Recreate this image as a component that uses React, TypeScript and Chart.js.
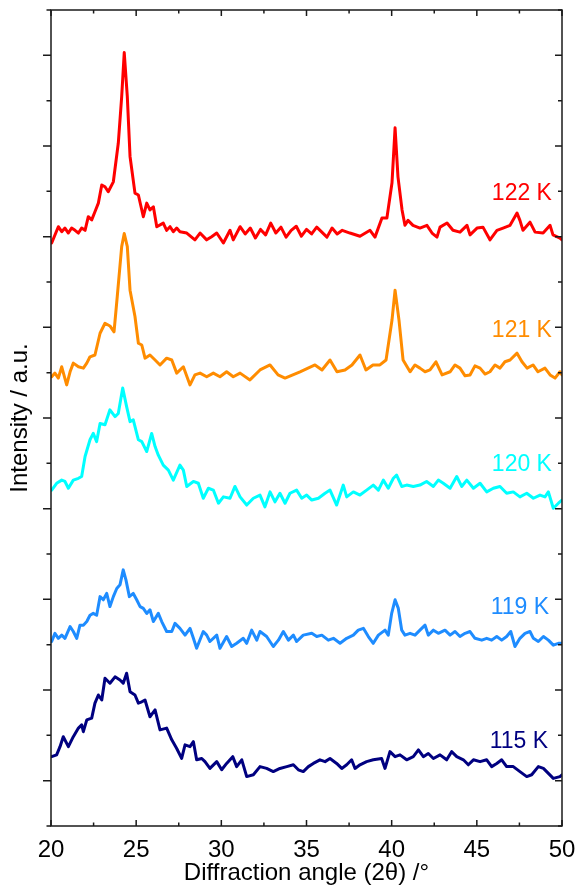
import React, { useEffect, useRef } from 'react';
import { Chart, registerables } from 'chart.js';

Chart.register(...registerables);

const FONT = '"Liberation Sans", Arial, Helvetica, sans-serif';
const AXIS_COLOR = '#1a1a1a';

// x (2θ, degrees) / intensity (offset, a.u.) pairs
const s122: [number, number][] = [
  [20.04, 12.86], [20.43, 13.22], [20.63, 13.11], [20.82, 13.19], [21.02, 13.08], [21.21, 13.19], [21.41, 13.14],
  [21.61, 13.08], [21.8, 13.19], [22.0, 13.14], [22.19, 13.44], [22.39, 13.37], [22.58, 13.55], [22.78, 13.74],
  [22.98, 14.14], [23.17, 14.1], [23.36, 13.99], [23.66, 14.21], [23.95, 15.06], [24.15, 16.09], [24.3, 17.06],
  [24.48, 16.09], [24.64, 14.77], [24.93, 13.96], [25.13, 13.92], [25.42, 13.44], [25.62, 13.74], [25.81, 13.59],
  [26.01, 13.66], [26.21, 13.22], [26.59, 13.3], [26.79, 13.14], [26.99, 13.22], [27.18, 13.11], [27.38, 13.19],
  [27.57, 13.11], [27.97, 13.08], [28.45, 12.93], [28.75, 13.08], [29.14, 12.93], [29.43, 13.0], [29.73, 13.08],
  [30.12, 12.86], [30.51, 13.14], [30.7, 12.93], [31.1, 13.22], [31.4, 13.06], [31.7, 13.19], [32.0, 12.97],
  [32.3, 13.16], [32.6, 13.04], [32.9, 13.3], [33.2, 13.08], [33.5, 13.21], [33.8, 12.99], [34.1, 13.14],
  [34.4, 13.23], [34.7, 13.01], [35.0, 13.16], [35.3, 13.06], [35.6, 13.21], [35.9, 13.1], [36.2, 12.99],
  [36.5, 13.19], [36.8, 13.06], [37.1, 13.14], [37.55, 13.08], [38.14, 13.01], [38.73, 13.14], [39.02, 12.99],
  [39.43, 13.41], [39.72, 13.41], [40.02, 14.19], [40.2, 15.4], [40.37, 14.32], [40.61, 13.59], [40.78, 13.25],
  [40.96, 13.36], [41.25, 13.25], [41.66, 13.19], [42.07, 13.25], [42.37, 13.08], [42.66, 12.99], [42.84, 13.21],
  [43.25, 13.3], [43.6, 13.14], [44.01, 13.1], [44.42, 13.25], [44.6, 13.04], [45.01, 13.19], [45.36, 13.21],
  [45.77, 12.93], [46.18, 13.14], [46.54, 13.19], [46.95, 13.25], [47.36, 13.52], [47.53, 13.36], [47.71, 13.14],
  [48.12, 13.32], [48.42, 13.1], [48.89, 13.08], [49.3, 13.25], [49.47, 13.04], [49.88, 12.97], [50.0, 12.93],
];

const s121: [number, number][] = [
  [20.04, 9.91], [20.23, 9.99], [20.43, 9.88], [20.63, 10.13], [20.92, 9.73], [21.12, 10.02], [21.31, 10.21],
  [21.61, 10.13], [21.9, 10.1], [22.1, 10.21], [22.29, 10.35], [22.58, 10.39], [22.88, 10.87], [23.17, 11.09],
  [23.46, 11.03], [23.7, 10.9], [23.89, 11.68], [24.15, 12.78], [24.3, 13.07], [24.48, 12.78], [24.64, 11.82],
  [24.93, 11.24], [25.13, 10.65], [25.33, 10.61], [25.52, 10.32], [25.81, 10.39], [26.11, 10.28], [26.4, 10.17],
  [26.79, 10.32], [27.09, 10.28], [27.38, 9.99], [27.77, 10.13], [28.16, 9.73], [28.45, 9.95], [28.75, 9.99],
  [29.14, 9.91], [29.53, 9.99], [29.92, 9.91], [30.31, 10.02], [30.7, 9.91], [31.1, 9.99], [31.68, 9.84],
  [32.27, 10.06], [32.86, 10.17], [33.33, 9.95], [33.74, 9.88], [34.62, 10.02], [35.09, 10.1], [35.5, 10.17],
  [35.91, 10.06], [36.38, 10.28], [36.79, 10.02], [37.26, 10.06], [37.67, 10.17], [38.14, 10.39], [38.49, 10.06],
  [38.9, 10.17], [39.31, 10.17], [39.67, 10.28], [40.02, 11.16], [40.2, 11.82], [40.43, 11.16], [40.67, 10.28],
  [41.08, 10.02], [41.37, 10.17], [41.66, 10.1], [41.96, 10.02], [42.25, 10.06], [42.6, 10.24], [42.96, 9.95],
  [43.43, 10.02], [43.72, 10.17], [44.01, 10.1], [44.31, 9.93], [44.6, 9.95], [44.89, 10.15], [45.19, 10.1],
  [45.48, 9.97], [45.77, 10.02], [46.07, 10.17], [46.36, 10.1], [46.65, 10.24], [46.95, 10.28], [47.36, 10.43],
  [47.65, 10.24], [47.95, 10.1], [48.3, 10.17], [48.59, 10.02], [49.0, 10.1], [49.3, 9.95], [49.59, 9.88],
  [49.88, 10.02], [50.0, 9.95],
];

const s120: [number, number][] = [
  [20.04, 7.41], [20.33, 7.56], [20.63, 7.63], [20.82, 7.6], [21.02, 7.45], [21.31, 7.63], [21.61, 7.67],
  [21.8, 7.71], [22.0, 8.15], [22.29, 8.52], [22.48, 8.66], [22.68, 8.48], [22.88, 8.88], [23.17, 8.85],
  [23.46, 9.18], [23.76, 9.03], [23.95, 9.1], [24.21, 9.66], [24.44, 9.25], [24.64, 8.92], [24.83, 8.96],
  [25.13, 8.52], [25.33, 8.48], [25.62, 8.26], [25.91, 8.66], [26.11, 8.37], [26.3, 8.18], [26.59, 7.96],
  [26.89, 7.85], [27.18, 7.63], [27.57, 7.96], [27.77, 7.85], [27.97, 7.49], [28.36, 7.6], [28.65, 7.56],
  [28.94, 7.23], [29.24, 7.45], [29.53, 7.41], [29.83, 7.12], [30.12, 7.26], [30.51, 7.23], [30.8, 7.49],
  [31.1, 7.26], [31.49, 7.08], [31.88, 7.23], [32.27, 7.3], [32.56, 7.04], [32.86, 7.37], [33.15, 7.15],
  [33.44, 7.34], [33.74, 7.12], [34.03, 7.34], [34.42, 7.41], [34.72, 7.23], [35.01, 7.3], [35.31, 7.19],
  [35.7, 7.23], [36.09, 7.34], [36.38, 7.41], [36.77, 7.08], [37.16, 7.52], [37.36, 7.26], [37.75, 7.37],
  [38.14, 7.3], [38.53, 7.41], [38.92, 7.52], [39.22, 7.41], [39.51, 7.63], [39.8, 7.45], [40.1, 7.67],
  [40.29, 7.74], [40.59, 7.49], [40.88, 7.52], [41.27, 7.49], [41.66, 7.52], [42.05, 7.6], [42.45, 7.49],
  [42.74, 7.63], [43.03, 7.56], [43.43, 7.45], [43.82, 7.71], [44.11, 7.49], [44.41, 7.63], [44.8, 7.45],
  [45.19, 7.56], [45.58, 7.37], [45.97, 7.45], [46.36, 7.49], [46.75, 7.34], [47.14, 7.37], [47.53, 7.26],
  [47.93, 7.34], [48.32, 7.23], [48.71, 7.3], [49.0, 7.26], [49.2, 7.37], [49.49, 7.01], [49.79, 7.12],
  [50.0, 7.19],
];

const s119: [number, number][] = [
  [20.04, 4.07], [20.23, 4.25], [20.43, 4.14], [20.63, 4.21], [20.82, 4.14], [21.12, 4.4], [21.31, 4.29],
  [21.51, 4.14], [21.7, 4.43], [21.9, 4.43], [22.1, 4.51], [22.29, 4.65], [22.48, 4.69], [22.68, 4.65],
  [22.88, 5.06], [23.07, 4.99], [23.27, 5.13], [23.46, 4.84], [23.66, 5.06], [23.86, 5.24], [24.05, 5.32],
  [24.24, 5.65], [24.4, 5.43], [24.6, 5.06], [24.83, 5.13], [25.03, 4.99], [25.23, 4.84], [25.42, 4.8],
  [25.62, 4.69], [25.81, 4.77], [26.01, 4.51], [26.3, 4.69], [26.5, 4.51], [26.79, 4.29], [27.09, 4.29],
  [27.28, 4.47], [27.57, 4.36], [27.87, 4.21], [28.16, 4.36], [28.36, 4.14], [28.55, 3.92], [28.94, 4.29],
  [29.14, 4.21], [29.33, 4.07], [29.73, 4.21], [29.92, 3.92], [30.31, 4.18], [30.61, 3.96], [30.9, 4.03],
  [31.29, 4.14], [31.49, 4.03], [31.78, 4.32], [32.08, 4.1], [32.27, 4.29], [32.66, 4.18], [33.05, 3.96],
  [33.35, 4.1], [33.64, 4.29], [33.94, 4.1], [34.23, 4.21], [34.42, 4.07], [34.81, 4.21], [35.31, 4.25],
  [35.6, 4.18], [35.9, 4.21], [36.28, 4.1], [36.58, 4.14], [36.97, 4.03], [37.36, 4.14], [37.75, 4.21],
  [38.04, 4.32], [38.34, 4.36], [38.63, 4.18], [38.92, 4.03], [39.22, 4.21], [39.61, 4.32], [39.8, 4.21],
  [40.0, 4.69], [40.2, 4.99], [40.39, 4.8], [40.59, 4.32], [40.78, 4.21], [41.08, 4.25], [41.37, 4.21],
  [41.66, 4.32], [41.96, 4.43], [42.15, 4.21], [42.45, 4.32], [42.74, 4.25], [43.13, 4.32], [43.43, 4.21],
  [43.72, 4.29], [44.01, 4.18], [44.31, 4.25], [44.6, 4.29], [44.89, 4.14], [45.29, 4.1], [45.58, 4.14],
  [45.87, 4.1], [46.17, 4.18], [46.46, 4.1], [46.75, 4.18], [46.99, 4.29], [47.24, 3.96], [47.53, 4.14],
  [47.83, 4.25], [48.12, 4.29], [48.32, 4.14], [48.61, 4.07], [48.91, 4.18], [49.2, 4.1], [49.49, 3.99],
  [49.79, 4.03], [50.0, 4.03],
];

const s115: [number, number][] = [
  [20.04, 1.53], [20.33, 1.57], [20.53, 1.75], [20.72, 1.97], [21.02, 1.75], [21.31, 1.97], [21.61, 2.16],
  [21.8, 2.23], [21.9, 2.08], [22.1, 2.34], [22.39, 2.38], [22.58, 2.71], [22.78, 2.89], [22.98, 2.78],
  [23.17, 3.26], [23.46, 3.15], [23.76, 3.29], [24.05, 3.22], [24.24, 3.15], [24.44, 3.37], [24.64, 2.96],
  [24.93, 2.89], [25.13, 2.71], [25.33, 2.74], [25.52, 2.78], [25.81, 2.41], [26.11, 2.56], [26.4, 2.12],
  [26.79, 2.16], [27.09, 1.9], [27.38, 1.71], [27.67, 1.49], [27.87, 1.79], [28.16, 1.75], [28.36, 1.86],
  [28.55, 1.46], [28.85, 1.49], [29.04, 1.42], [29.33, 1.27], [29.73, 1.42], [30.02, 1.24], [30.31, 1.38],
  [30.67, 1.53], [30.9, 1.31], [31.2, 1.46], [31.49, 1.09], [31.88, 1.13], [32.27, 1.31], [32.66, 1.27],
  [33.05, 1.2], [33.44, 1.27], [33.84, 1.31], [34.23, 1.35], [34.52, 1.24], [34.81, 1.2], [35.11, 1.31],
  [35.4, 1.38], [35.79, 1.46], [36.09, 1.42], [36.38, 1.49], [36.77, 1.38], [37.07, 1.27], [37.36, 1.35],
  [37.65, 1.46], [37.85, 1.27], [38.14, 1.35], [38.53, 1.42], [38.92, 1.46], [39.41, 1.49], [39.61, 1.27],
  [39.9, 1.64], [40.2, 1.53], [40.49, 1.57], [40.88, 1.46], [41.27, 1.53], [41.57, 1.68], [41.86, 1.53],
  [42.15, 1.6], [42.45, 1.49], [42.84, 1.57], [43.23, 1.46], [43.52, 1.64], [43.82, 1.53], [44.21, 1.46],
  [44.5, 1.35], [44.8, 1.46], [45.19, 1.42], [45.58, 1.46], [45.87, 1.31], [46.17, 1.38], [46.46, 1.46],
  [46.75, 1.31], [47.14, 1.31], [47.53, 1.2], [47.93, 1.09], [48.22, 1.13], [48.61, 1.31], [48.91, 1.27],
  [49.2, 1.16], [49.49, 1.05], [49.88, 1.09], [50.0, 1.13],
];

const seriesNames = ['122 K', '121 K', '120 K', '119 K', '115 K'];
const seriesData = [s122, s121, s120, s119, s115];
const seriesColors = ['#ff0000', '#ff8c00', '#00ffff', '#1e8cff', '#000080'];
// label anchor (right edge x, vertical centre y) in data units
const labelX = [49.41, 49.41, 49.41, 49.24, 49.18];
const labelY = [13.94, 10.92, 7.96, 4.81, 1.85];

const xMajorTicks = [20, 25, 30, 35, 40, 45, 50];
const xMinorTicks = [22.5, 27.5, 32.5, 37.5, 42.5, 47.5];
const yMajorTicks = [1, 3, 5, 7, 9, 11, 13, 15, 17];
const yMinorTicks = [0, 2, 4, 6, 8, 10, 12, 14, 16, 18];

const framePlugin = {
  id: 'frame',
  afterDatasetsDraw(chart: any) {
    const { ctx, chartArea, scales } = chart;
    const { left, right, top, bottom } = chartArea;
    const x = scales.x;
    const y = scales.y;
    ctx.save();
    ctx.strokeStyle = AXIS_COLOR;
    ctx.lineWidth = 1.5;
    ctx.strokeRect(left, top, right - left, bottom - top);
    ctx.beginPath();
    for (const v of xMajorTicks) {
      const px = x.getPixelForValue(v);
      ctx.moveTo(px, bottom); ctx.lineTo(px, bottom - 6);
      ctx.moveTo(px, top); ctx.lineTo(px, top + 6);
    }
    for (const v of xMinorTicks) {
      const px = x.getPixelForValue(v);
      ctx.moveTo(px, bottom); ctx.lineTo(px, bottom - 3.5);
      ctx.moveTo(px, top); ctx.lineTo(px, top + 3.5);
    }
    for (const v of yMajorTicks) {
      const py = y.getPixelForValue(v);
      ctx.moveTo(left, py); ctx.lineTo(left - 8, py);
      ctx.moveTo(right, py); ctx.lineTo(right - 7, py);
    }
    for (const v of yMinorTicks) {
      const py = y.getPixelForValue(v);
      ctx.moveTo(left, py); ctx.lineTo(left - 4.5, py);
      ctx.moveTo(right, py); ctx.lineTo(right - 4, py);
    }
    ctx.stroke();

    ctx.font = `23px ${FONT}`;
    ctx.textAlign = 'right';
    ctx.textBaseline = 'middle';
    seriesNames.forEach((name, i) => {
      ctx.fillStyle = seriesColors[i];
      ctx.fillText(name, x.getPixelForValue(labelX[i]), y.getPixelForValue(labelY[i]));
    });
    ctx.restore();
  },
};

export default function App() {
  const ref = useRef<HTMLCanvasElement>(null);
  useEffect(() => {
    const canvas = ref.current;
    if (!canvas) return;
    const chart = new Chart(canvas, {
      type: 'line',
      data: {
        datasets: seriesData.map((d, i) => ({
          label: seriesNames[i],
          data: d.map(([px, py]) => ({ x: px, y: py })),
          borderColor: seriesColors[i],
          backgroundColor: seriesColors[i],
          borderWidth: 3,
          borderJoinStyle: 'round' as const,
          borderCapStyle: 'round' as const,
          pointRadius: 0,
          tension: 0,
          fill: false,
        })),
      },
      options: {
        animation: false,
        responsive: false,
        devicePixelRatio: 1,
        layout: { padding: { top: 10, right: 15, left: 0, bottom: 0 } },
        plugins: { legend: { display: false }, tooltip: { enabled: false } },
        scales: {
          x: {
            type: 'linear',
            min: 20,
            max: 50,
            grid: { display: false, drawTicks: false },
            border: { display: false },
            afterBuildTicks: (s: any) => { s.ticks = xMajorTicks.map((v) => ({ value: v })); },
            ticks: {
              padding: 10,
              maxRotation: 0,
              autoSkip: false,
              color: '#000',
              font: { size: 24, family: FONT },
              callback: (v: any) => String(v),
            },
            title: {
              display: true,
              text: 'Diffraction angle (2θ) /°',
              color: '#000',
              font: { size: 24, family: FONT },
              padding: { top: 0, bottom: 0 },
            },
            afterFit: (s: any) => { s.height = 62; s.paddingLeft = 0; s.paddingRight = 0; },
          },
          y: {
            type: 'linear',
            min: 0,
            max: 18,
            grid: { display: false, drawTicks: false },
            border: { display: false },
            ticks: { display: false },
            title: {
              display: true,
              text: 'Intensity / a.u.',
              color: '#000',
              font: { size: 24, family: FONT },
              padding: { top: 6, bottom: 0 },
            },
            afterFit: (s: any) => { s.width = 51; },
          },
        },
      },
      plugins: [framePlugin],
    });
    return () => chart.destroy();
  }, []);
  return (
    <div style={{ position: 'absolute', left: 0, top: 0, width: 577, height: 888 }}>
      <canvas ref={ref} width={577} height={888} style={{ display: 'block' }} />
    </div>
  );
}
